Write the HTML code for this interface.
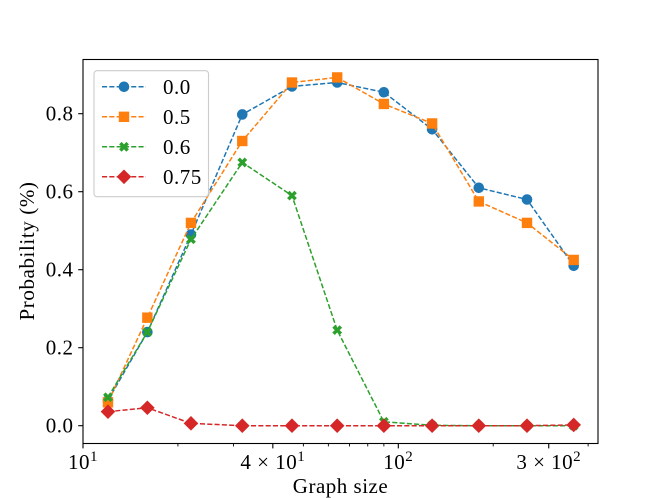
<!DOCTYPE html>
<html>
<head>
<meta charset="utf-8">
<style>
html,body{margin:0;padding:0;background:#fff;}
svg{display:block;}
text{font-family:"Liberation Serif",serif;fill:#000;}
</style>
</head>
<body>
<svg id="chart" xmlns="http://www.w3.org/2000/svg" width="664" height="498" viewBox="0 0 664 498">
<rect x="83" y="59.5" width="515" height="384" fill="#fff"/>
<g id="ticks"></g>
<g id="series"></g>
<rect x="83" y="59.5" width="515" height="384" fill="none" stroke="#000" stroke-width="1.1"/>
<g id="legend"></g>
<text x="340.5" y="493" font-size="21" text-anchor="middle" letter-spacing="0.5">Graph size</text>
<text transform="translate(34,251) rotate(-90)" font-size="21" text-anchor="middle" letter-spacing="0.6">Probability (%)</text>
</svg>
<script>
const graphSizes = [12, 16, 22, 32, 46, 64, 90, 128, 180, 256, 360];
const series00 = [0.065, 0.24, 0.49, 0.798, 0.87, 0.88, 0.855, 0.76, 0.61, 0.58, 0.41];
const series05 = [0.06, 0.277, 0.52, 0.73, 0.88, 0.893, 0.825, 0.775, 0.575, 0.52, 0.425];
const series06 = [0.073, 0.24, 0.478, 0.675, 0.59, 0.245, 0.01, 0.001, 0, 0, 0];
const series075 = [0.036, 0.046, 0.006, 0, 0, 0, 0, 0, 0, 0, 0.002];
const seriesLabels = ['0.0', '0.5', '0.6', '0.75'];
const yTicks = [0, 0.2, 0.4, 0.6, 0.8];
const xMajorTicks = [10, 40, 100, 300];
const xMajorPrefix = ['', '4 × ', '', '3 × '];
const xMajorBase = ['10', '10', '10', '10'];
const xMajorExp = ['1', '1', '2', '2'];
const xMinorTicks = [20, 30, 50, 60, 70, 80, 90, 200, 400];

const NS = 'http://www.w3.org/2000/svg';
const xAxis = v => 83 + (Math.log10(v) - 1) * 315.3;
const yAxis = v => 425.7 - v * 390;

function make(tag, attrs, parent) {
  const el = document.createElementNS(NS, tag);
  for (const k in attrs) el.setAttribute(k, attrs[k]);
  parent.appendChild(el);
  return el;
}

function marker(kind, cx, cy, color, parent) {
  if (kind === 'circle') return make('circle', {cx: cx, cy: cy, r: 5.3, fill: color}, parent);
  if (kind === 'square') return make('rect', {x: cx - 5.2, y: cy - 5.2, width: 10.4, height: 10.4, fill: color}, parent);
  if (kind === 'x') {
    const a = 2.4, b = 4.9;
    const pts = [[-a,-b],[0,-a],[a,-b],[b,-a],[a,0],[b,a],[a,b],[0,a],[-a,b],[-b,a],[-a,0],[-b,-a]];
    return make('polygon', {points: pts.map(p => (cx + p[0]) + ',' + (cy + p[1])).join(' '), fill: color}, parent);
  }
  const d = 7.3;
  return make('polygon', {points: [cx, cy - d, cx + d, cy, cx, cy + d, cx - d, cy].join(' '), fill: color}, parent);
}

const ticksG = document.getElementById('ticks');
yTicks.forEach(function (v) {
  const y = yAxis(v);
  const t = make('line', {x1: 78.2, x2: 83, y1: y, y2: y, stroke: '#000', 'stroke-width': 1.1}, ticksG);
  
  
  const l = make('text', {x: 73.5, y: y + 7, 'font-size': 21, 'text-anchor': 'end', 'letter-spacing': 0.5}, ticksG);
  l.textContent = v.toFixed(1);
  
  
});
xMinorTicks.forEach(function (v) {
  const x = xAxis(v);
  const t = make('line', {x1: x, x2: x, y1: 443.5, y2: 446.4, stroke: '#000', 'stroke-width': 0.9}, ticksG);
  
  
});
xMajorTicks.forEach(function (v, i) {
  const x = xAxis(v);
  const t = make('line', {x1: x, x2: x, y1: 443.5, y2: 448.4, stroke: '#000', 'stroke-width': 1.1}, ticksG);
  
  
  const l = make('text', {x: x, y: 469, 'font-size': 21, 'text-anchor': 'middle', 'letter-spacing': 0.5}, ticksG);
  
  
  const main = make('tspan', {}, l);
  main.textContent = xMajorPrefix[i] + xMajorBase[i];
  const sup = make('tspan', {dy: -8, 'font-size': 15}, l);
  sup.textContent = xMajorExp[i];
});

const defs = [
  {values: series00, color: '#1f77b4', kind: 'circle'},
  {values: series05, color: '#ff7f0e', kind: 'square'},
  {values: series06, color: '#2ca02c', kind: 'x'},
  {values: series075, color: '#d62728', kind: 'diamond'}
];

const seriesG = document.getElementById('series');
defs.forEach(function (d, i) {
  const g = make('g', {}, seriesG);
  
  
  const line = make('polyline', {
    points: d.values.map((v, j) => xAxis(graphSizes[j]) + ',' + yAxis(v)).join(' '),
    fill: 'none', stroke: d.color, 'stroke-width': 1.5, 'stroke-dasharray': '5.1 2.2'
  }, g);
  
  
  d.values.forEach(function (v, j) {
    const m = marker(d.kind, xAxis(graphSizes[j]), yAxis(v), d.color, g);
    
    
  });
});

const legendG = document.getElementById('legend');


const box = make('rect', {x: 94, y: 70.7, width: 114.5, height: 126, rx: 3, ry: 3, fill: '#fff', 'fill-opacity': 0.8, stroke: '#ccc', 'stroke-width': 1.1}, legendG);


defs.forEach(function (d, i) {
  const y = 86.8 + i * 30;
  const g = make('g', {}, legendG);
  
  
  make('line', {x1: 102, x2: 146, y1: y, y2: y, stroke: d.color, 'stroke-width': 1.5, 'stroke-dasharray': '5.1 2.2'}, g);
  marker(d.kind, 124, y, d.color, g);
  const t = make('text', {x: 163, y: y + 7, 'font-size': 21, 'letter-spacing': 0.5}, g);
  t.textContent = seriesLabels[i];
});
</script>
</body>
</html>
